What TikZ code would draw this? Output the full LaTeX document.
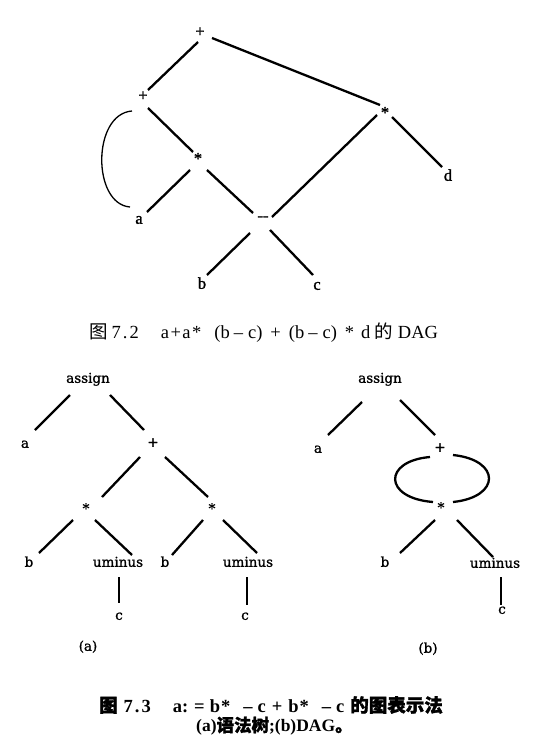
\documentclass[tikz,border=0pt]{standalone}
\usepackage{fontspec}
\setmainfont{Liberation Serif}
\newfontfamily\cjk{Noto Sans CJK SC}
\newfontfamily\cjkb{Noto Sans CJK SC}[FakeBold=1.5]
\newfontfamily\toplab{Liberation Serif}[FakeBold=1.5]
\newfontfamily\labfont{DejaVu Serif}[FakeBold=1.2]
\usetikzlibrary{calc}
\newcommand\lowstar{\raisebox{-0.25em}{*}}
\begin{document}
\begin{tikzpicture}[x=1pt,y=-1pt,
  lab/.style={inner sep=0pt, text height=1.2ex, text depth=0pt, font=\toplab\fontsize{16.5}{16}\selectfont},
  labb/.style={inner sep=0pt, text height=1.2ex, text depth=0pt, font=\labfont\fontsize{13.5}{14}\selectfont},
  edge/.style={line width=2.3pt},
  thinedge/.style={line width=1.3pt},
  captext/.style={inner sep=0pt, anchor=west, font=\fontsize{18.5}{19}\selectfont}]
\useasboundingbox (0,0) rectangle (546,752);
% ---------- Fig 7.2 ----------
\node[lab] (tp) at (200,34) {+};
\node[lab] (lp) at (143,98) {+};
\node[lab] (ms) at (198,157) {\lowstar};
\node[lab] (ta) at (139,221) {a};
\node[lab] (mn) at (263,218) {--};
\node[lab] (rs) at (385,111) {\lowstar};
\node[lab] (td) at (448,178) {d};
\node[lab] (tb) at (202,286) {b};
\node[lab] (tc) at (317,287) {c};
\draw[edge] ($(tp)+(-2,8)$) -- ($(lp)+(5,-8)$);
\draw[edge] ($(tp)+(12,4)$) -- ($(rs)+(-5,-6)$);
\draw[edge] ($(lp)+(5,10)$) -- ($(ms)+(-5,-5)$);
\draw[edge] ($(ms)+(-8,13)$) -- ($(ta)+(8,-9)$);
\draw[edge] ($(ms)+(9,13)$) -- ($(mn)+(-10,-5)$);
\draw[edge] ($(rs)+(-8,4)$) -- ($(mn)+(9,-1)$);
\draw[edge] ($(rs)+(7,6)$) -- ($(td)+(-6,-11)$);
\draw[edge] ($(mn)+(-13,15)$) -- ($(tb)+(5,-11)$);
\draw[edge] ($(mn)+(7,12)$) -- ($(tc)+(-4,-12)$);
\draw[thinedge] ($(lp)+(-11,13)$) .. controls +(-40,3) and +(-38,-3) .. ($(ta)+(-9,-14)$);
\node[captext] (cap1) at (89,333) {{\cjk 图}\hspace{4pt}7\kern2pt.\kern2pt2\hspace{22pt}a\kern1.5pt+\kern1.5pta\kern1.5pt*\hspace{13pt}(b\hspace{4pt}--\hspace{5pt}c)\hspace{8pt}+\hspace{8pt}(b\hspace{4pt}--\hspace{5pt}c)\hspace{8pt}*\hspace{7pt}d\hspace{4pt}{\cjk 的}\hspace{5pt}DAG};
% ---------- Fig 7.3 (a) ----------
\node[labb] (as) at (88,380) {assign};
\node[labb] (aa) at (25,445) {a};
\node[labb] (ap) at (153,444) {+};
\node[labb] (sL) at (86,507) {\lowstar};
\node[labb] (sR) at (212,507) {\lowstar};
\node[labb] (b1) at (29,564) {b};
\node[labb] (u1) at (118,564) {uminus};
\node[labb] (b2) at (165,564) {b};
\node[labb] (u2) at (248,564) {uminus};
\node[labb] (c1) at (119,617) {c};
\node[labb] (c2) at (245,617) {c};
\node[labb] (capa) at (88,648) {(a)};
\draw[edge] ($(as)+(-18,15)$) -- ($(aa)+(10,-15)$);
\draw[edge] ($(as)+(22,15)$) -- ($(ap)+(-9,-14)$);
\draw[edge] ($(ap)+(-13,13)$) -- ($(sL)+(16,-10)$);
\draw[edge] ($(ap)+(12,13)$) -- ($(sR)+(-4,-10)$);
\draw[edge] ($(sL)+(-13,13)$) -- ($(b1)+(10,-11)$);
\draw[edge] ($(sL)+(9,13)$) -- ($(u1)+(14,-9)$);
\draw[edge] ($(sR)+(-9,13)$) -- ($(b2)+(7,-9)$);
\draw[edge] ($(sR)+(11,13)$) -- ($(u2)+(9,-11)$);
\draw[edge] ($(u1)+(1,13)$) -- ($(c1)+(0,-14)$);
\draw[edge] ($(u2)+(-1,13)$) -- ($(c2)+(2,-12)$);
% ---------- Fig 7.3 (b) ----------
\node[labb] (asB) at (380,380) {assign};
\node[labb] (aB) at (318,450) {a};
\node[labb] (pB) at (440,449) {+};
\node[labb] (stB) at (441,506) {\lowstar};
\node[labb] (bB) at (385,564) {b};
\node[labb] (uB) at (495,565) {uminus};
\node[labb] (cB) at (502,611) {c};
\node[labb] (capb) at (428,650) {(b)};
\draw[edge] ($(asB)+(-18,22)$) -- ($(aB)+(10,-15)$);
\draw[edge] ($(asB)+(20,20)$) -- ($(pB)+(-5,-14)$);
\draw[edge] ($(pB)+(-10,8)$) .. controls +(-47,4) and +(-50,-4) .. ($(stB)+(-8,-4)$);
\draw[edge] ($(pB)+(13,6)$) .. controls +(48,5) and +(48,-5) .. ($(stB)+(12,-4)$);
\draw[edge] ($(stB)+(-6,14)$) -- ($(bB)+(15,-11)$);
\draw[edge] ($(stB)+(16,14)$) -- ($(uB)+(-2,-8)$);
\draw[edge] ($(uB)+(6,12)$) -- ($(cB)+(-1,-6)$);
% ---------- caption 7.3 ----------
\node[captext, font=\bfseries\fontsize{18.5}{19}\selectfont] (cap2) at (99,705) {{\cjkb 图}\hspace{6pt}7\kern2pt.\kern2pt3\hspace{22pt}a:\hspace{6pt}=\hspace{5pt}b\kern1pt*\hspace{13pt}--\hspace{5pt}c\hspace{6pt}+\hspace{6pt}b\kern1pt*\hspace{13pt}--\hspace{5pt}c\hspace{6pt}{\cjkb 的图表示法}};
\node[captext, font=\bfseries\fontsize{17.5}{17}\selectfont] (cap3) at (196,726) {(a){\cjkb 语法树};(b)DAG{\cjkb 。}};
\end{tikzpicture}
\end{document}
